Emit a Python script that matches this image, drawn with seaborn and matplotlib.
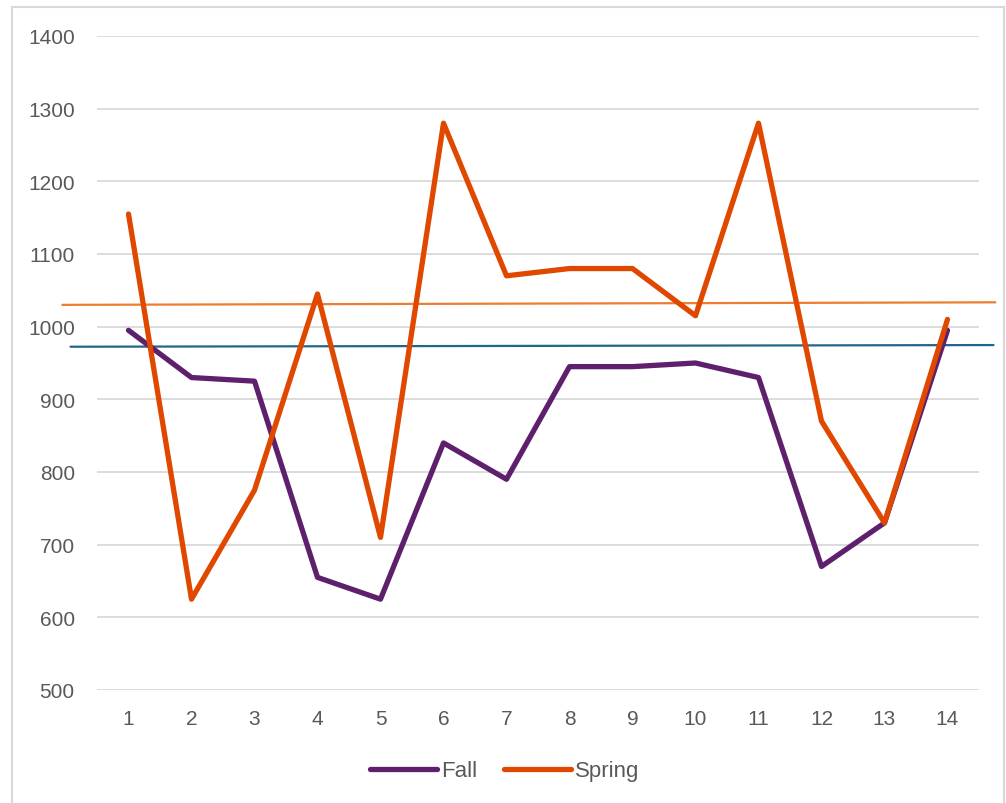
import matplotlib
matplotlib.use("Agg")
import matplotlib.pyplot as plt
import seaborn as sns
import pandas as pd
from matplotlib.patches import Rectangle
from matplotlib.lines import Line2D

weeks = list(range(1, 15))
fall = [995, 930, 925, 655, 625, 840, 790, 945, 945, 950, 930, 670, 730, 995]
spring = [1155, 625, 775, 1045, 710, 1280, 1070, 1080, 1080, 1015, 1280, 870, 730, 1010]
# reference lines (start/end values)
ref_orange_x = [-0.05, 14.76]
ref_orange_y = [1030, 1033.5]
ref_blue_x = [0.08, 14.73]
ref_blue_y = [972.4, 974.7]
yticks = [500, 600, 700, 800, 900, 1000, 1100, 1200, 1300, 1400]

sns.set_theme(style="white")
plt.rcParams['font.family'] = ['Liberation Sans', 'DejaVu Sans']

df = pd.DataFrame({
    "x": weeks * 2,
    "value": fall + spring,
    "series": ["Fall"] * len(fall) + ["Spring"] * len(spring),
})

fall_c = "#5E1F6C"
spring_c = "#E04800"
fig = plt.figure(figsize=(10.06, 8.04), dpi=100)
ax = fig.add_axes([97/1006, 1 - 691/804, (979-97)/1006, (691-37)/804])

# border of chart area
fig.patches.append(Rectangle((12/1006, -0.01), (1004-12)/1006, 1 - 8/804 + 0.01,
                             transform=fig.transFigure, fill=False,
                             edgecolor="#D9D9D9", linewidth=1.5))

ax.set_ylim(500, 1400)
ax.set_xlim(0.5, 14.5)
ax.set_yticks(yticks)
ax.set_xticks(weeks)
ax.grid(axis="y", color="#D9D9D9", linewidth=1.3)
ax.set_axisbelow(True)
for s in ax.spines.values():
    s.set_visible(False)

sns.lineplot(data=df, x="x", y="value", hue="series",
             palette={"Fall": fall_c, "Spring": spring_c},
             linewidth=3.8, ax=ax, legend=False, solid_capstyle="round",
             solid_joinstyle="round")

ax.plot(ref_orange_x, ref_orange_y, color="#ED7D31", linewidth=1.6, clip_on=False, zorder=1.5)
ax.plot(ref_blue_x, ref_blue_y, color="#1F6689", linewidth=1.6, clip_on=False, zorder=1.5)

ax.tick_params(axis="both", colors="#595959", labelsize=15, length=0)
ax.tick_params(axis="y", pad=16)
ax.tick_params(axis="x", pad=14)
ax.set_xlabel("")
ax.set_ylabel("")

handles = [Line2D([0], [0], color=fall_c, linewidth=3.8, solid_capstyle="round"),
           Line2D([0], [0], color=spring_c, linewidth=3.8, solid_capstyle="round")]
fig.legend(handles, ["Fall", "Spring"], loc="center", bbox_to_anchor=(505/1006, 1 - 772/804),
           ncol=2, frameon=False, fontsize=16, labelcolor="#595959",
           handlelength=3.0, handletextpad=0.2, columnspacing=1.2)

fig.savefig("out.png", dpi=100)
